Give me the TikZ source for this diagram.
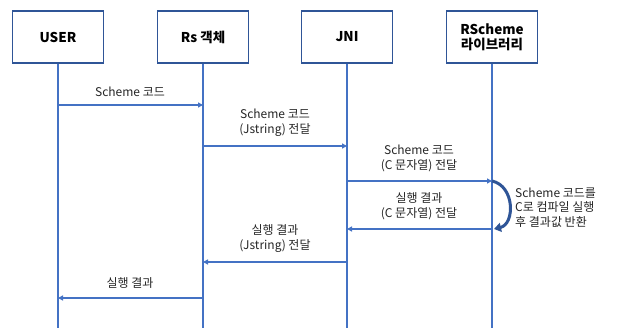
\documentclass[tikz,border=0pt]{standalone}
\usepackage{fontspec}
\setmainfont{Noto Sans CJK KR}
\usetikzlibrary{arrows.meta}
\definecolor{boxblue}{HTML}{2F5597}
\definecolor{lineblue}{HTML}{4472C4}
\begin{document}
\begin{tikzpicture}[x=1pt,y=-1pt,
  actor/.style={draw=boxblue, line width=1.8pt, fill=white, minimum width=91pt, minimum height=52pt,
    font=\bfseries\fontsize{13.5}{15}\selectfont, align=center, inner sep=0pt},
  life/.style={draw=lineblue, line width=1.6pt},
  msg/.style={draw=lineblue, line width=2pt, -{Triangle[length=5pt,width=5pt]}},
  loopy/.style={draw=boxblue, line width=3pt, -{Triangle[length=7pt,width=9pt]}},
  lbl/.style={font=\fontsize{12}{15}\selectfont, align=center, text=black!85, inner sep=0pt},
  note/.style={font=\fontsize{12}{14.5}\selectfont, align=left, text=black!85, inner sep=0pt, anchor=west}]
\useasboundingbox (0,0) rectangle (617,328);
% lifelines
\coordinate (userend) at (58,328);
\coordinate (rsend) at (203,328);
\coordinate (jniend) at (347,328);
\coordinate (libend) at (492,328);
\node[actor] (user) at (58,37) {USER};
\node[actor] (rs) at (203,37) {Rs 객체};
\node[actor] (jni) at (347,37) {JNI};
\node[actor] (lib) at (492,37) {RScheme\\라이브러리};
\draw[life] (user.south) -- (userend);
\draw[life] (rs.south) -- (rsend);
\draw[life] (jni.south) -- (jniend);
\draw[life] (lib.south) -- (libend);
% message points
\coordinate (m1a) at (58,105);  \coordinate (m1b) at (203,105);
\coordinate (m2a) at (203,146); \coordinate (m2b) at (347,146);
\coordinate (m3a) at (347,181); \coordinate (m3b) at (492,181);
\coordinate (m4a) at (492,229); \coordinate (m4b) at (347,229);
\coordinate (m5a) at (347,262); \coordinate (m5b) at (203,262);
\coordinate (m6a) at (203,298); \coordinate (m6b) at (58,298);
\draw[msg] (m1a) -- (m1b);
\draw[msg] (m2a) -- (m2b);
\draw[msg] (m3a) -- (m3b);
\draw[msg] (m4a) -- (m4b);
\draw[msg] (m5a) -- (m5b);
\draw[msg] (m6a) -- (m6b);
% labels
\node[lbl] (l1) at (130,92) {Scheme 코드};
\node[lbl] (l2) at (275,123) {Scheme 코드\\(Jstring) 전달};
\node[lbl] (l3) at (419,158) {Scheme 코드\\(C 문자열) 전달};
\node[lbl] (l4) at (419,206) {실행 결과\\(C 문자열) 전달};
\node[lbl] (l5) at (275,239) {실행 결과\\(Jstring) 전달};
\node[lbl] (l6) at (130,283) {실행 결과};
% self loop
\draw[loopy] (m3b) .. controls (515,186) and (515,224) .. (494,229);
\node[note] (n1) at (515,207.5) {Scheme 코드를\\C로 컴파일 실행\\후 결과값 반환};
\end{tikzpicture}
\end{document}
